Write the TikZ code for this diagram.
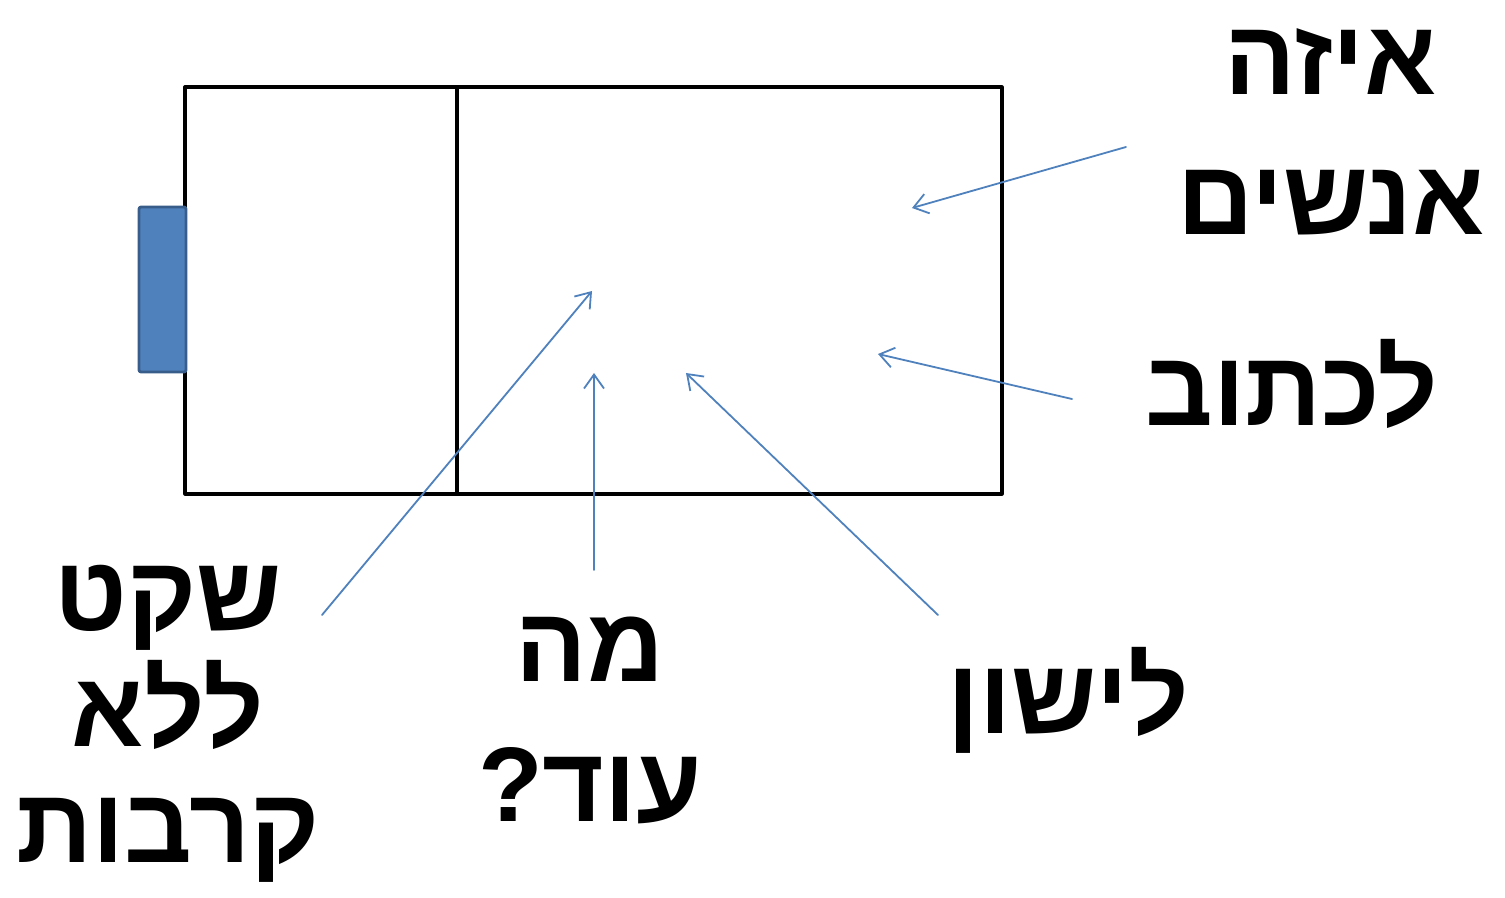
\documentclass[tikz,border=0pt]{standalone}
\usepackage{fontspec}
\usetikzlibrary{arrows.meta}
\TeXXeTstate=1
\newfontfamily\hebfont[Script=Hebrew]{Liberation Sans}
\definecolor{arrowblue}{HTML}{4F81BD}
\definecolor{capfill}{HTML}{4F81BD}
\definecolor{capdraw}{HTML}{385D8A}
\tikzset{
  note/.style={font=\hebfont\bfseries\fontsize{53}{70}\selectfont, align=center, inner sep=0pt},
  pointer/.style={arrowblue, line width=0.9pt, line cap=round, -{Straight Barb[length=7pt,width=10pt]}}
}
\begin{document}
\begin{tikzpicture}[x=0.5pt, y=-0.5pt, line join=round]
			\useasboundingbox (0,0) rectangle (1505,898);
			% the box and its cap
			\draw[line width=1.6pt] (185,87) rectangle (1002,494);
			\draw[line width=1.6pt] (457,87)--(457,494);
			\draw[capdraw, fill=capfill, line width=1.4pt, rounded corners=1pt] (139,207) rectangle (186,372);
			% labels
			\node[note] (who) at (1331,132) {\beginR איזה\endR\\\beginR אנשים\endR};
			\node[note] (write) at (1292,384) {\beginR לכתוב\endR};
			\node[note] (sleep) at (1068,700) {\beginR לישון\endR};
			\node[note] (more) at (590,720) {\beginR מה\endR\\\beginR עוד?\endR};
			\node[note, font=\hebfont\bfseries\fontsize{53}{58}\selectfont] (quiet) at (168,724) {\beginR שקט\endR\\\beginR ללא\endR\\\beginR קרבות\endR};
			% arrow ends
			\coordinate (whoT) at (1126,147); \coordinate (whoH) at (912,208);
			\coordinate (writeT) at (1072,399); \coordinate (writeH) at (878,354);
			\coordinate (sleepT) at (938,615); \coordinate (sleepH) at (686,373);
			\coordinate (moreT) at (594,570); \coordinate (moreH) at (594,373);
			\coordinate (quietT) at (322,615); \coordinate (quietH) at (592,291);
			\foreach \n in {who,write,sleep,more,quiet}
				\draw[pointer] (\n T)--(\n H);
		\end{tikzpicture}
\end{document}
